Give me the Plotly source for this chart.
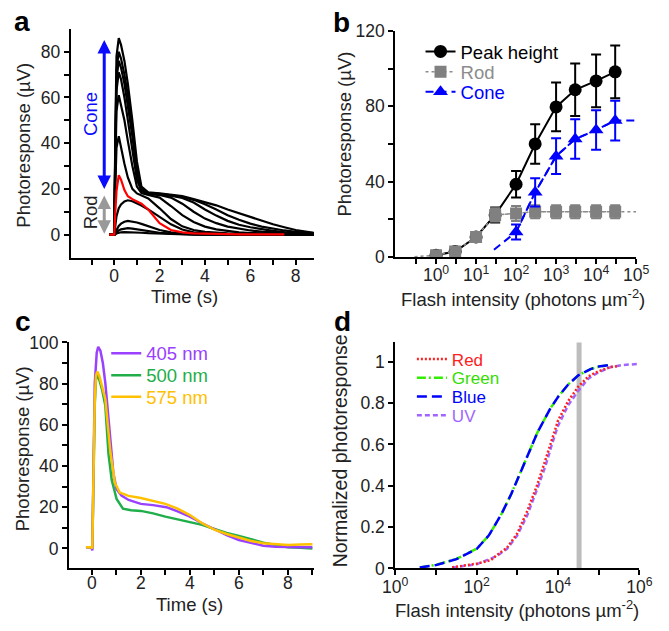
import plotly.graph_objects as go

FONT = "Liberation Sans, Arial, sans-serif"

# ---------------- Panel a: response traces (time in s, response in uV) ----------------
a_time = [-0.22, 0, 0.05, 0.1, 0.2, 0.3, 0.45, 0.6, 0.8, 1.0, 1.2, 1.5, 2.0, 2.5,
          3.0, 3.5, 4.0, 4.5, 5.0, 5.5, 6.0, 6.5, 7.0, 7.5, 8.0, 8.8]
a_resp_86 = [0, 0, 45, 78, 86, 83, 76, 66, 50, 32, 21, 18.5, 18, 17.5, 16.8, 15.5, 14.2, 12.8, 11, 9.3, 7.6, 6, 4.5, 3.2, 2, 0.8]
a_resp_80 = [0, 0, 40, 72, 80, 77, 70, 61, 46, 29, 20, 18.3, 17.8, 17.3, 16.5, 15.2, 13.3, 11, 8.5, 6.5, 4.8, 3.5, 2.6, 1.8, 1.2, 0.6]
a_resp_76 = [0, 0, 38, 68, 76, 73, 66, 57, 43, 27, 19.5, 18, 17.6, 17, 16, 14, 11, 8.3, 6, 4.3, 3.2, 2.3, 1.6, 1.1, 0.8, 0.4]
a_resp_71 = [0, 0, 35, 63, 71, 68, 60, 50, 37, 24, 19, 17.8, 17.3, 16.2, 13.5, 10, 7, 5, 3.5, 2.5, 1.8, 1.3, 0.9, 0.6, 0.4, 0.3]
a_resp_61 = [0, 0, 30, 54, 61, 57, 50, 41, 30, 21, 18.2, 17.3, 16.2, 12.5, 8.5, 5.5, 3.5, 2.3, 1.5, 1, 0.7, 0.5, 0.4, 0.3, 0.2, 0.2]
a_resp_43 = [0, 0, 22, 38, 43, 38, 31, 25, 20, 18, 17, 15.8, 11.5, 6.8, 3.6, 2, 1.2, 0.8, 0.5, 0.4, 0.3, 0.2, 0.2, 0.2, 0.1, 0.1]
a_resp_15 = [0, 0, 4, 8, 11.5, 13.2, 14.5, 15, 14.6, 13.7, 12.7, 11, 7.8, 4.5, 2.2, 1, 0.5, 0.3, 0.2, 0.1, 0.1, 0.1, 0, 0, 0, 0]
a_resp_6 = [0, 0, 1, 2.2, 3.8, 4.8, 5.6, 6, 5.8, 5.3, 4.7, 3.6, 2, 1, 0.4, 0.2, 0.1, 0, 0, 0, 0, 0, 0, 0, 0, 0]
a_resp_3 = [0, 0, 0.4, 1, 1.8, 2.3, 2.7, 2.8, 2.6, 2.3, 2, 1.5, 0.8, 0.4, 0.2, 0.1, 0, 0, 0, 0, 0, 0, 0, 0, 0, 0]
a_resp_1 = [0, 0, 0.2, 0.5, 0.8, 1, 1.1, 1.1, 1, 0.9, 0.8, 0.6, 0.4, 0.2, 0.1, 0, 0, 0, 0, 0, 0, 0, 0, 0, 0, 0]
a_resp_red = [0, 0, 10, 19, 26, 24, 19.5, 16.8, 15.5, 14.5, 13.5, 11, 5, 2, 1, 0.5, 0.3, 0.2, 0.2, 0.1, 0.1, 0.1, 0.1, 0.1, None, None]

# ---------------- Panel b: intensity-response ----------------
b_intensity = [1, 3, 10, 30, 100, 300, 1000, 3000, 10000, 30000]
b_peak = [0.9, 2.9, 10.6, 22.3, 38.6, 60, 79.7, 88.8, 93.5, 98.3]
b_peak_err = [0.8, 1, 1.5, 4, 7, 10.5, 13, 14, 14, 14]
b_rod = [0.9, 2.9, 10.6, 22.3, 23.1, 24.0, 24.0, 24.0, 24.0, 24.0]
b_rod_err = [0.5, 1, 1.5, 3.5, 4, 3.5, 3.5, 3.5, 3.5, 3.5]
b_rod_fit_x = [0.29, 1, 3, 10, 30, 100, 300, 1000, 3000, 10000, 30000, 100000]
b_rod_fit_y = [0.1, 0.9, 2.9, 10.6, 22.3, 23.1, 24.0, 24.0, 24.0, 24.0, 24.0, 24.0]
b_cone_intensity = [100, 300, 1000, 3000, 10000, 30000]
b_cone = [13.2, 34.3, 53.5, 62.6, 67.4, 72.4]
b_cone_err = [4, 7.5, 9.5, 10.5, 10.5, 10.5]
b_cone_fit_x = [28, 100, 300, 1000, 3000, 10000, 30000, 100000]
b_cone_fit_y = [3.8, 13.2, 34.3, 53.5, 62.6, 67.4, 72.4, 72.5]

# ---------------- Panel c: wavelength traces ----------------
c_t_405 = [-0.24, -0.02, 0.02, 0.06, 0.12, 0.2, 0.26, 0.35, 0.45, 0.55, 0.65, 0.75, 0.88, 1.01, 1.21,
           1.5, 2.0, 2.5, 3.04, 3.5, 4.0, 4.5, 5.0, 5.5, 6.0, 6.5, 7.0, 7.5, 8.0, 8.5, 9.0]
c_405 = [0.5, 0.5, -1, 40, 80, 95, 97.9, 96, 90, 80.4, 67, 52, 36.5, 28.7, 25.6,
         23.5, 21.6, 21.0, 20, 18, 15.4, 12.2, 9.1, 6.4, 4.1, 2.6, 1.3, 0.8, 0.5, 0.5, 0.5]
c_t_500 = [-0.24, -0.02, 0.02, 0.06, 0.12, 0.17, 0.22, 0.3, 0.42, 0.55, 0.68, 0.81, 1.01, 1.27,
           1.6, 2.0, 2.5, 3.0, 3.5, 4.0, 4.5, 5.0, 5.5, 6.0, 6.5, 7.0, 7.5, 8.0, 8.5, 9.0]
c_500 = [0.5, 0.5, 0, 35, 70, 82, 84.2, 82, 77, 69.4, 45.9, 33.3, 24, 19.3,
         18.5, 18.2, 17, 15.4, 14.1, 13, 11.4, 9.4, 7.5, 6, 4.4, 2.8, 1.6, 0.5, 0.3, 0]
c_t_575 = [-0.24, -0.02, 0.02, 0.06, 0.12, 0.17, 0.22, 0.3, 0.42, 0.55, 0.75, 0.94, 1.14,
           1.5, 2.0, 2.5, 3.0, 3.5, 4.0, 4.5, 5.0, 5.5, 6.0, 6.5, 7.0, 7.5, 8.0, 8.5, 9.0]
c_575 = [0.5, 0.5, 0, 36, 72, 84, 85.8, 84, 79, 72.6, 47.5, 31.8, 27.1,
         25.5, 24.5, 23.2, 21.6, 19.3, 16.2, 12.2, 9.1, 7, 5.2, 3.6, 2.5, 2, 1.7, 1.9, 2]

# ---------------- Panel d: normalized photoresponse ----------------
d_int_blue = [4, 10, 32, 100, 200, 400, 710, 1120, 1780, 3160, 6300, 10000, 17800, 31600, 63000, 100000, 200000]
d_blue = [0.005, 0.016, 0.045, 0.094, 0.16, 0.26, 0.36, 0.45, 0.55, 0.66, 0.77, 0.83, 0.89, 0.935, 0.965, 0.977, 0.985]
d_int_green = [4, 10, 32, 100, 200, 400, 710, 1120, 1780, 3160, 6300, 10000, 17800, 31600, 63000, 100000, 160000]
d_green = [0.005, 0.017, 0.046, 0.095, 0.16, 0.26, 0.36, 0.45, 0.55, 0.66, 0.77, 0.83, 0.89, 0.935, 0.965, 0.976, 0.983]
d_int_red = [25, 100, 224, 316, 560, 1000, 1780, 3160, 5000, 7080, 10000, 17800, 31600, 56200, 100000, 200000, 316000]
d_red = [0.005, 0.023, 0.04, 0.065, 0.1, 0.17, 0.28, 0.41, 0.53, 0.62, 0.715, 0.81, 0.88, 0.93, 0.955, 0.975, 0.98]
d_int_uv = [25, 100, 316, 560, 1000, 1780, 3160, 5000, 7080, 10000, 17800, 31600, 56200, 100000, 200000, 400000, 1000000]
d_uv = [0.004, 0.02, 0.06, 0.095, 0.16, 0.26, 0.39, 0.5, 0.6, 0.69, 0.79, 0.86, 0.92, 0.95, 0.975, 0.985, 0.99]
d_marker_intensity = 33000

# ---------------- Figure ----------------
fig = go.Figure()

for resp in [a_resp_1, a_resp_3, a_resp_6, a_resp_15, a_resp_43, a_resp_61,
             a_resp_71, a_resp_76, a_resp_80, a_resp_86]:
    fig.add_trace(go.Scatter(x=a_time, y=resp, mode="lines", line=dict(color="black", width=2.2),
                             showlegend=False, xaxis="x", yaxis="y"))
fig.add_trace(go.Scatter(x=a_time, y=a_resp_red, mode="lines", line=dict(color="#ff0000", width=2.2),
                         showlegend=False, xaxis="x", yaxis="y"))

# panel b
fig.add_trace(go.Scatter(x=b_rod_fit_x, y=b_rod_fit_y, mode="lines", showlegend=False,
                         line=dict(color="#8c8c8c", width=1.5, dash="dot"), xaxis="x2", yaxis="y2"))
fig.add_trace(go.Scatter(x=b_cone_fit_x, y=b_cone_fit_y, mode="lines", showlegend=False,
                         line=dict(color="#0000ff", width=2, dash="8px,5px"), xaxis="x2", yaxis="y2"))
fig.add_trace(go.Scatter(x=b_intensity, y=b_peak, name="Peak height", mode="lines+markers",
                         line=dict(color="black", width=2),
                         marker=dict(symbol="circle", size=13, color="black"),
                         error_y=dict(type="data", array=b_peak_err, color="black", thickness=2, width=5),
                         legend="legend", xaxis="x2", yaxis="y2"))
fig.add_trace(go.Scatter(x=b_intensity, y=b_rod, name="Rod", mode="lines+markers",
                         line=dict(color="#8c8c8c", width=1.5, dash="dot"),
                         marker=dict(symbol="square", size=12, color="#808080"),
                         error_y=dict(type="data", array=b_rod_err, color="#808080", thickness=2, width=5),
                         legend="legend2", xaxis="x2", yaxis="y2"))
fig.add_trace(go.Scatter(x=b_cone_intensity, y=b_cone, name="Cone", mode="lines+markers",
                         line=dict(color="#0000ff", width=2, dash="8px,5px"),
                         marker=dict(symbol="triangle-up", size=13, color="#0000ff"),
                         error_y=dict(type="data", array=b_cone_err, color="#0000ff", thickness=2, width=5),
                         legend="legend3", xaxis="x2", yaxis="y2"))

# panel c
fig.add_trace(go.Scatter(x=c_t_500, y=c_500, name="500 nm", mode="lines",
                         line=dict(color="#1fae4a", width=2.5), legend="legend5", xaxis="x3", yaxis="y3"))
fig.add_trace(go.Scatter(x=c_t_405, y=c_405, name="405 nm", mode="lines",
                         line=dict(color="#9a40ff", width=2.5), legend="legend4", xaxis="x3", yaxis="y3"))
fig.add_trace(go.Scatter(x=c_t_575, y=c_575, name="575 nm", mode="lines",
                         line=dict(color="#ffc000", width=2.5), legend="legend6", xaxis="x3", yaxis="y3"))

# panel d
fig.add_trace(go.Scatter(x=d_int_uv, y=d_uv, name="UV", mode="lines",
                         line=dict(color="#a066ff", width=2.5, dash="5px,3px"), legend="legend10",
                         xaxis="x4", yaxis="y4"))
fig.add_trace(go.Scatter(x=d_int_red, y=d_red, name="Red", mode="lines",
                         line=dict(color="#ff2020", width=2.5, dash="2px,2px"), legend="legend7",
                         xaxis="x4", yaxis="y4"))
fig.add_trace(go.Scatter(x=d_int_green, y=d_green, name="Green", mode="lines",
                         line=dict(color="#33ee00", width=2.5, dash="9px,3px,2px,3px"), legend="legend8",
                         xaxis="x4", yaxis="y4"))
fig.add_trace(go.Scatter(x=d_int_blue, y=d_blue, name="Blue", mode="lines",
                         line=dict(color="#0000ff", width=2.5, dash="10px,5px"), legend="legend9",
                         xaxis="x4", yaxis="y4"))

W, H = 669, 631


def px_x(p):
    return p / W


def px_y(p):
    return 1 - p / H


axis_common = dict(showline=True, linecolor="black", linewidth=2, ticks="outside", ticklen=5,
                   tickwidth=2, tickcolor="black", showgrid=False, zeroline=False,
                   tickfont=dict(family=FONT, size=17.5, color="#222"))

a_xticks = list(range(-1, 9))
a_yticks = list(range(0, 90, 10))
b_xtick_exp = [-0.5, 0, 0.5, 1, 1.5, 2, 2.5, 3, 3.5, 4, 4.5, 5]
b_yticks = list(range(0, 140, 20))
c_xticks = list(range(0, 10))
c_yticks = list(range(0, 110, 10))
d_xtick_exp = [0, 1, 2, 3, 4, 5, 6]
d_yticks = [0, 0.2, 0.4, 0.6, 0.8, 1]

FLASH = "Flash intensity (photons \u00b5m<sup>-2</sup>)"
PHOTO = "Photoresponse (\u00b5V)"

fig.update_layout(
    width=W, height=H, margin=dict(l=0, r=0, t=0, b=0),
    paper_bgcolor="white", plot_bgcolor="white",
    font=dict(family=FONT, size=18, color="#222"),
    xaxis=dict(domain=[px_x(60), px_x(313)], range=[-1.92, 8.8], anchor="y", ticklabelstandoff=-4,
               tickvals=a_xticks, ticktext=[str(v) if v % 2 == 0 and v >= 0 else "" for v in a_xticks],
               **axis_common),
    yaxis=dict(domain=[px_y(256), px_y(20)], range=[-10.2, 89.8], anchor="x",
               tickvals=a_yticks, ticktext=[str(v) if v % 20 == 0 else "" for v in a_yticks],
               **axis_common),
    xaxis2=dict(domain=[px_x(397.7), px_x(648.3)], type="log", range=[-1.02, 5], anchor="y2",
                ticklabelstandoff=-4,
                tickvals=[10 ** e for e in b_xtick_exp],
                ticktext=["10<sup>%d</sup>" % e if float(e).is_integer() and e >= 0 else "" for e in b_xtick_exp],
                **axis_common),
    yaxis2=dict(domain=[px_y(255), px_y(21.7)], range=[0, 120], anchor="x2",
                tickvals=b_yticks, ticktext=[str(v) if v % 40 == 0 else "" for v in b_yticks],
                **axis_common),
    xaxis3=dict(domain=[px_x(58.3), px_x(313.3)], range=[-0.93, 9.07], anchor="y3", ticklabelstandoff=-7,
                tickvals=c_xticks, ticktext=[str(v) if v % 2 == 0 else "" for v in c_xticks],
                **axis_common),
    yaxis3=dict(domain=[px_y(576.7), px_y(343.3)], range=[-9.73, 100], anchor="x3",
                tickvals=c_yticks, ticktext=[str(v) if v % 20 == 0 else "" for v in c_yticks],
                **axis_common),
    xaxis4=dict(domain=[px_x(397.7), px_x(651.7)], type="log", range=[0, 6], anchor="y4",
                ticklabelstandoff=-3,
                tickvals=[10 ** e for e in d_xtick_exp],
                ticktext=["10<sup>%d</sup>" % e if e % 2 == 0 else "" for e in d_xtick_exp],
                **axis_common),
    yaxis4=dict(domain=[px_y(576.7), px_y(343.3)], range=[0, 1.094], anchor="x4",
                tickvals=d_yticks, ticktext=["0", "0.2", "0.4", "0.6", "0.8", "1"],
                **axis_common),
)

# Legends: one per entry so each row sits where it does in the reference
legend_rows = {
    "legend": (424, 43.3, "black", 18.5),
    "legend2": (424, 64.3, "#8c8c8c", 18.5),
    "legend3": (424, 85, "#0000ff", 18.5),
    "legend4": (97, 355, "#9a40ff", 18.5),
    "legend5": (97, 377.7, "#1fae4a", 18.5),
    "legend6": (97, 400, "#ffc000", 18.5),
    "legend7": (415, 361, "#ff2020", 17),
    "legend8": (415, 380.3, "#33dd00", 17),
    "legend9": (415, 399.6, "#0000ff", 17),
    "legend10": (415, 419, "#a066ff", 17),
}
for key, (lx, ly, col, fs) in legend_rows.items():
    fig.update_layout({key: dict(x=px_x(lx), y=px_y(ly), xanchor="left", yanchor="middle",
                                 bgcolor="rgba(0,0,0,0)", borderwidth=0,
                                 font=dict(family=FONT, size=fs, color=col))})

# vertical reference line in panel d
fig.add_shape(type="line", xref="x4", yref="y4 domain", x0=d_marker_intensity, x1=d_marker_intensity,
              y0=0, y1=1, line=dict(color="#bdbdbd", width=5), layer="below")


def paper_text(text, cx, cy, size=18.5, angle=0, color="#222"):
    return dict(text=text, x=px_x(cx), y=px_y(cy), xref="paper", yref="paper", xanchor="center",
                yanchor="middle", showarrow=False, textangle=angle,
                font=dict(family=FONT, size=size, color=color))


annotations = [
    # panel letters
    paper_text("<b>a</b>", 9.5, 12, size=28, color="black"),
    paper_text("<b>b</b>", 341.5, 12.5, size=28, color="black"),
    paper_text("<b>c</b>", 10.5, 322, size=28, color="black"),
    paper_text("<b>d</b>", 343, 322, size=28, color="black"),
    # axis titles
    paper_text("Time (s)", 178.7, 296),
    paper_text(PHOTO, 10.5, 140, angle=-90),
    paper_text(FLASH, 530.3, 297),
    paper_text(PHOTO, 345, 128, angle=-90),
    paper_text("Time (s)", 184, 613.5),
    paper_text(PHOTO, 10, 453, angle=-90),
    paper_text(FLASH, 524, 619),
    paper_text("Normalized photoresponse", 340, 455, size=19.5, angle=-90),
    # Cone / Rod arrows in panel a
    dict(text="", x=-0.44, y=19.9, ax=-0.44, ay=85.8, xref="x", yref="y", axref="x", ayref="y",
         showarrow=True, arrowhead=2, arrowside="end+start", arrowwidth=3, arrowsize=0.9,
         arrowcolor="#0a0aff"),
    dict(text="", x=-0.44, y=0.4, ax=-0.44, ay=17.8, xref="x", yref="y", axref="x", ayref="y",
         showarrow=True, arrowhead=2, arrowside="end+start", arrowwidth=3, arrowsize=0.9,
         arrowcolor="#999999"),
    dict(text="Cone", x=-1.07, y=52.7, xref="x", yref="y", textangle=-90, showarrow=False,
         font=dict(family=FONT, size=18.5, color="#0a0aff")),
    dict(text="Rod", x=-1.07, y=9.7, xref="x", yref="y", textangle=-90, showarrow=False,
         font=dict(family=FONT, size=18.5, color="#222")),
]
fig.update_layout(annotations=annotations)

fig.write_html("out.html")
